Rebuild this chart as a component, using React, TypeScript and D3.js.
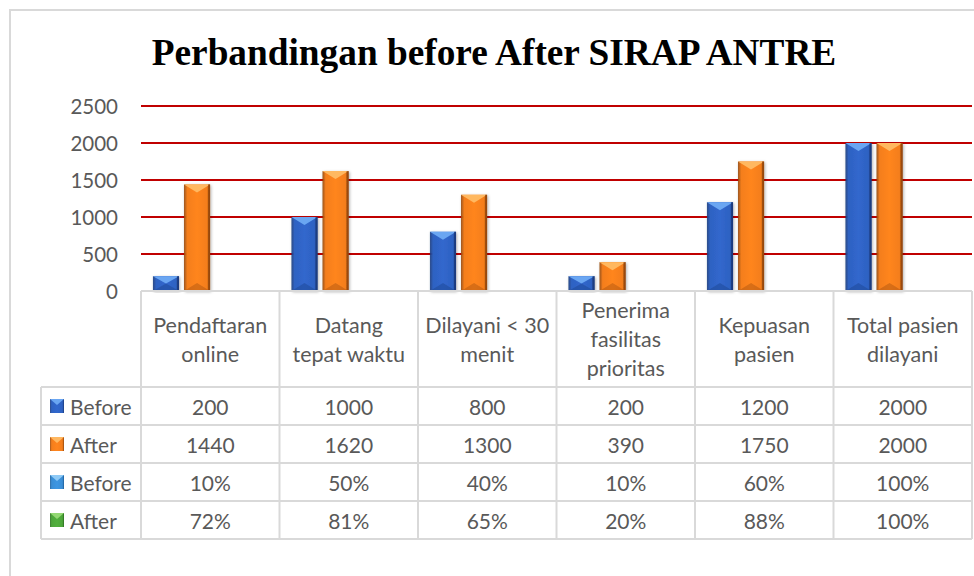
import * as d3 from 'd3';
import React from 'react';

const title = "Perbandingan before After SIRAP ANTRE";
const categories = [
  "Pendaftaran\nonline",
  "Datang\ntepat waktu",
  "Dilayani < 30\nmenit",
  "Penerima\nfasilitas\nprioritas",
  "Kepuasan\npasien",
  "Total pasien\ndilayani",
];
const beforeCount = [200, 1000, 800, 200, 1200, 2000];
const afterCount = [1440, 1620, 1300, 390, 1750, 2000];
const beforePct = [0.1, 0.5, 0.4, 0.1, 0.6, 1.0];
const afterPct = [0.72, 0.81, 0.65, 0.2, 0.88, 1.0];
const seriesNames = ["Before", "After", "Before", "After"];
const yTicks = [0, 500, 1000, 1500, 2000, 2500];

const W = 974;
const H = 576;
const font = "Lato, 'Open Sans', sans-serif";
const textColor = "#595959";
const lineColor = "#d9d9d9";

// bevel colours per series: base, light top, dark edge
const palette = [
  { base: "#2e62c2", light: "#6aa6f2", dark: "#1a3a7c" },
  { base: "#f47e1c", light: "#ffb861", dark: "#93460b" },
  { base: "#3a8ed6", light: "#8fcaf6", dark: "#1d5c96" },
  { base: "#4da63a", light: "#93d873", dark: "#2a6b1f" },
];

const series = [beforeCount, afterCount, beforePct, afterPct];
const pct = d3.format(".0%");
const fmt = [(v: number) => String(v), (v: number) => String(v), pct, pct];

function Bar({ x, y, w, h, i }: { x: number; y: number; w: number; h: number; i: number }) {
  if (h < 0.5) return null;
  const c = palette[i];
  const bev = Math.min(8, h / 2);
  return (
    <g filter="url(#shadow)">
      <rect x={x} y={y} width={w} height={h} fill={`url(#side${i})`} />
      <polygon
        points={`${x},${y} ${x + w},${y} ${x + w / 2},${y + bev}`}
        fill={c.light}
      />
      <polygon
        points={`${x},${y + h} ${x + w},${y + h} ${x + w / 2},${y + h - bev}`}
        fill={c.dark}
        opacity={0.35}
      />
      <rect x={x + w - 2} y={y} width={2} height={h} fill={c.dark} opacity={0.8} />
    </g>
  );
}

export default function App() {
  const plotLeft = 141;
  const plotRight = 972;
  const y = d3.scaleLinear().domain([0, 2500]).range([291, 106]);
  const x0 = d3.scaleBand<string>().domain(categories).range([plotLeft, plotRight]).padding(0);
  const x1 = d3
    .scaleBand<number>()
    .domain(d3.range(series.length))
    .range([0, x0.bandwidth()])
    .paddingInner(0.16)
    .paddingOuter(0.31)
    .align(0.62);

  const base = y(0);
  const headTop = base;
  const tableTop = 387;
  const rowH = 38;
  const tableLeft = 41;
  const fs = 21;

  return (
    <svg
      width={W}
      height={H}
      style={{ position: "absolute", left: 0, top: 0, background: "#fff" }}
      fontFamily={font}
    >
      <defs>
        {palette.map((c, i) => (
          <linearGradient key={i} id={`side${i}`} x1="0" x2="1" y1="0" y2="0">
            <stop offset="0" stopColor={c.dark} stopOpacity={0.9} />
            <stop offset="0.12" stopColor={c.base} />
            <stop offset="0.5" stopColor={d3.color(c.base)!.brighter(0.15).toString()} />
            <stop offset="0.88" stopColor={c.base} />
            <stop offset="1" stopColor={c.dark} />
          </linearGradient>
        ))}
        <filter id="shadow" x="-30%" y="-10%" width="160%" height="120%">
          <feDropShadow dx="1" dy="1" stdDeviation="1.6" floodColor="#000" floodOpacity="0.3" />
        </filter>
      </defs>

      <rect x={10} y={10} width={1000} height={620} fill="#fff" stroke={lineColor} strokeWidth={2} />

      <text
        x={494}
        y={65}
        textAnchor="middle"
        fontFamily="'Liberation Serif', 'Times New Roman', serif"
        fontWeight="bold"
        fontSize={37.3}
        fill="#000"
      >
        {title}
      </text>

      {/* gridlines */}
      {yTicks.filter((t) => t > 0).map((t) => (
        <line key={t} x1={plotLeft} x2={plotRight} y1={y(t)} y2={y(t)} stroke="#c00000" strokeWidth={2} />
      ))}
      {yTicks.map((t) => (
        <text
          key={t}
          x={118}
          y={y(t)}
          textAnchor="end"
          dominantBaseline="central"
          fontSize={20.5}
          fill={textColor}
        >
          {t}
        </text>
      ))}

      {/* bars */}
      {categories.map((cat, ci) =>
        series.map((s, si) => {
          const bx = x0(cat)! + x1(si)!;
          const by = y(s[ci]);
          return <Bar key={`${ci}-${si}`} x={bx} y={by} w={x1.bandwidth()} h={base - by} i={si} />;
        })
      )}

      {/* data table */}
      <g stroke={lineColor} strokeWidth={2} fill="none">
        <line x1={plotLeft} x2={plotRight} y1={headTop} y2={headTop} />
        {d3.range(series.length + 1).map((r) => (
          <line key={r} x1={tableLeft} x2={plotRight} y1={tableTop + r * rowH} y2={tableTop + r * rowH} />
        ))}
        <line x1={tableLeft} x2={tableLeft} y1={tableTop} y2={tableTop + series.length * rowH} />
        {categories.map((cat) => (
          <line key={cat} x1={x0(cat)!} x2={x0(cat)!} y1={headTop} y2={tableTop + series.length * rowH} />
        ))}
        <line x1={plotRight} x2={plotRight} y1={headTop} y2={tableTop + series.length * rowH} />
      </g>

      {categories.map((cat) => {
        const lines = cat.split("\n");
        const cx = x0(cat)! + x0.bandwidth() / 2;
        const cy = (headTop + tableTop) / 2;
        const lh = 29;
        return (
          <text key={cat} textAnchor="middle" fontSize={fs + 0.5} fill={textColor}>
            {lines.map((l, li) => (
              <tspan key={li} x={cx} y={cy + (li - (lines.length - 1) / 2) * lh} dominantBaseline="central">
                {l}
              </tspan>
            ))}
          </text>
        );
      })}

      {series.map((s, si) => {
        const ry = tableTop + si * rowH + rowH / 2;
        const c = palette[si];
        return (
          <g key={si}>
            <rect x={50} y={ry - 7} width={14} height={14} fill={`url(#side${si})`} />
            <polygon points={`50,${ry - 7} 64,${ry - 7} 57,${ry - 1}`} fill={c.light} />
            <text x={70} y={ry} dominantBaseline="central" fontSize={fs} fill={textColor}>
              {seriesNames[si]}
            </text>
            {categories.map((cat, ci) => (
              <text
                key={cat}
                x={x0(cat)! + x0.bandwidth() / 2}
                y={ry}
                textAnchor="middle"
                dominantBaseline="central"
                fontSize={fs}
                fill={textColor}
              >
                {fmt[si](s[ci])}
              </text>
            ))}
          </g>
        );
      })}
    </svg>
  );
}
